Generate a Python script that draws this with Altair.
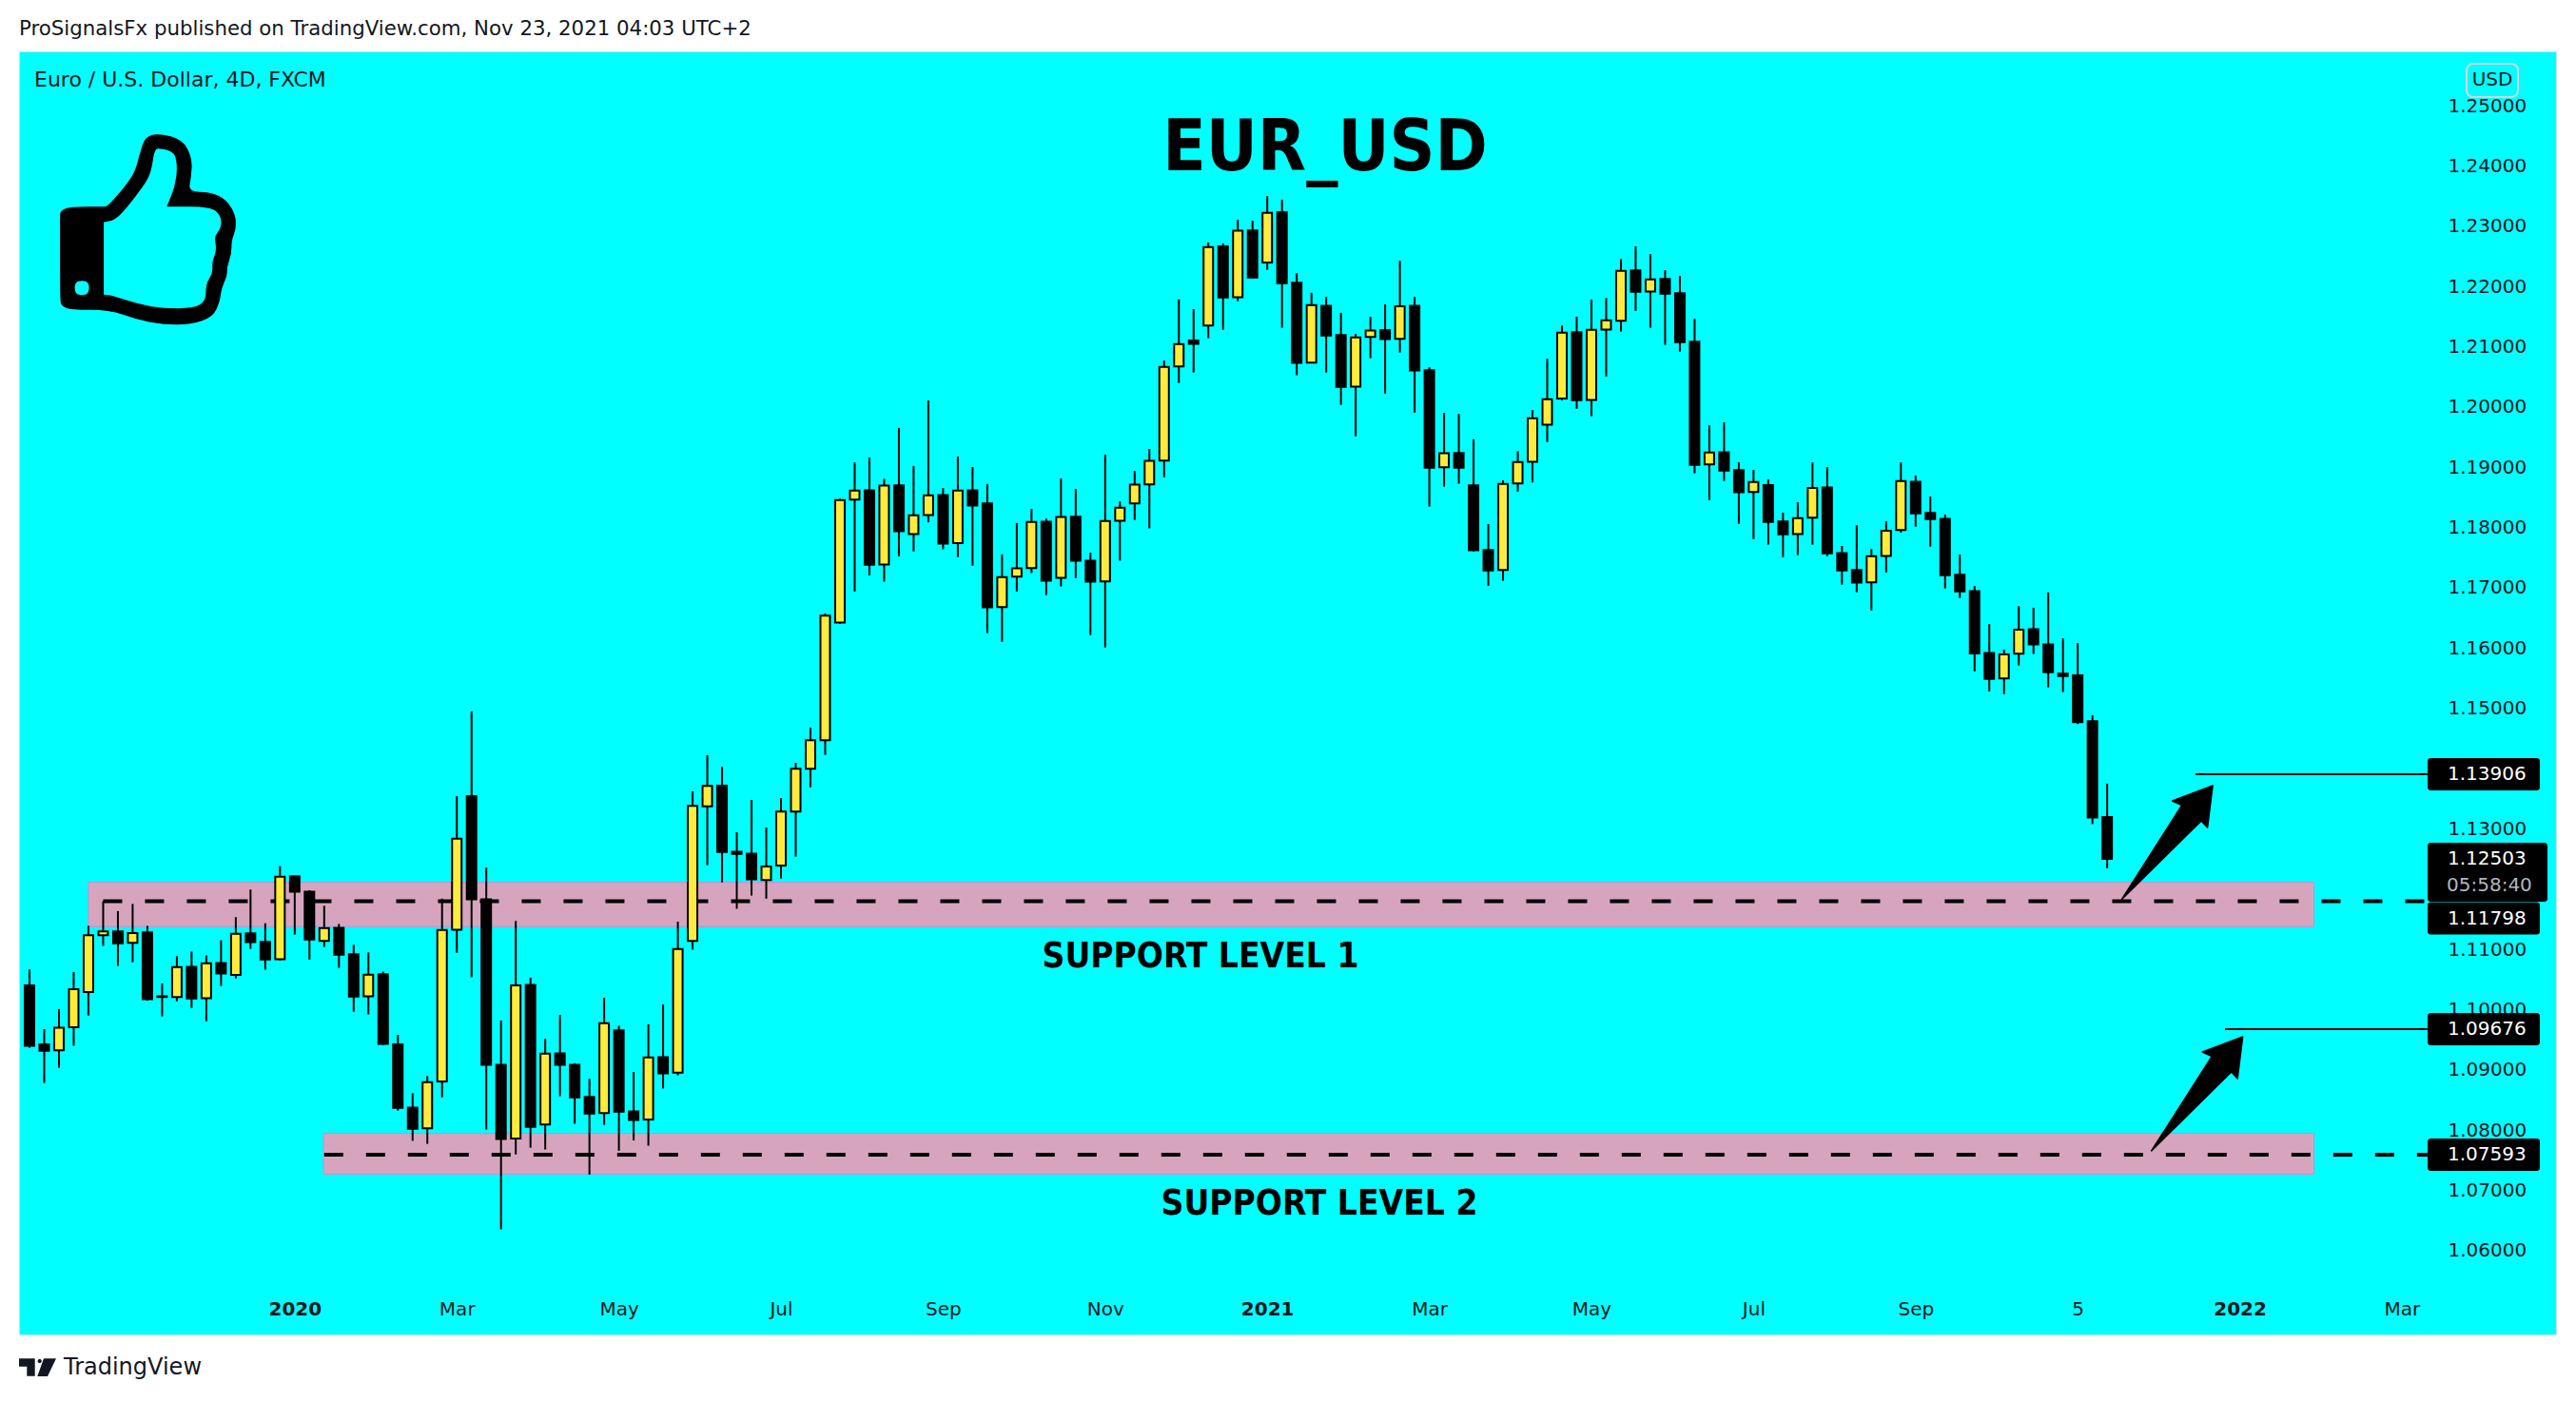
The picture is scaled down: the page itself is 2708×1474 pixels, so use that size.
import altair as alt
import pandas as pd

# ---- candle values (EUR/USD, 4D) ----
highs = [1.10668,1.09676,1.10009,1.10624,1.11390,1.11798,1.11635,1.11754,1.11390,1.10436,1.10888,1.10963,1.10900,1.11152,1.11535,1.11993,1.11434,1.12382,1.12213,1.11981,
1.11723,1.11422,1.11076,1.10951,1.10630,1.09582,1.08614,1.08897,1.11842,1.13542,1.14947,1.12357,1.09820,1.11472,1.10530,1.09519,1.09914,1.09111,1.08853,1.10197,
1.09732,1.08966,1.09757,1.10084,1.11459,1.13622,1.14222,1.14032,1.12943,1.13480,1.13022,1.13511,1.14096,1.14679,1.16573,1.18479,1.19082,1.19160,1.18811,1.19653,
1.19022,1.20107,1.18656,1.19177,1.19005,1.18723,1.17555,1.18075,1.18307,1.18147,1.18817,1.18640,1.17582,1.19210,1.18435,1.18939,1.19304,1.20771,1.21784,1.21624,
1.22731,1.22714,1.23107,1.23091,1.23500,1.23439,1.22221,1.21895,1.21828,1.21563,1.21214,1.21496,1.21701,1.22426,1.21828,1.20660,1.19902,1.19885,1.19465,1.18058,
1.18784,1.19267,1.19949,1.20800,1.21352,1.21499,1.21781,1.21809,1.22452,1.22666,1.22536,1.22271,1.22175,1.21465,1.19695,1.19746,1.19081,1.18957,1.18799,1.18246,
1.18421,1.19081,1.19002,1.17694,1.18038,1.17643,1.18105,1.19081,1.18861,1.18511,1.18213,1.17553,1.17029,1.16397,1.15975,1.16696,1.16668,1.16922,1.16161,1.16082,
1.14887,1.13750]
lows = [1.09368,1.08784,1.09035,1.09399,1.09902,1.11057,1.10725,1.10787,1.10153,1.09889,1.10140,1.10027,1.09808,1.10392,1.10517,1.11007,1.10662,1.10819,1.11246,1.10831,
1.11039,1.10693,1.09965,1.09921,1.09412,1.08326,1.07823,1.07773,1.08545,1.10944,1.10536,1.08012,1.06354,1.07597,1.07710,1.07679,1.08564,1.08106,1.07264,1.08087,
1.07660,1.07829,1.07742,1.08690,1.08910,1.10995,1.12395,1.12112,1.11673,1.11893,1.11842,1.12175,1.12539,1.13690,1.14227,1.16403,1.16940,1.17206,1.17101,1.17521,
1.17604,1.18086,1.17638,1.17510,1.17366,1.16248,1.16104,1.16940,1.17245,1.16879,1.17023,1.17161,1.16215,1.16010,1.17449,1.18125,1.17986,1.18833,1.20400,1.20572,
1.21142,1.21280,1.21756,1.22133,1.22277,1.21313,1.20527,1.20732,1.20572,1.20035,1.19514,1.20810,1.20223,1.20904,1.19907,1.18346,1.18678,1.18728,1.17604,1.17034,
1.17117,1.18596,1.18748,1.19419,1.20112,1.19971,1.19847,1.20507,1.21251,1.21595,1.21313,1.21031,1.20918,1.18900,1.18455,1.18771,1.18060,1.17807,1.17716,1.17508,
1.17542,1.17716,1.17525,1.17051,1.16927,1.16623,1.17254,1.17919,1.18016,1.17683,1.16989,1.16832,1.15614,1.15281,1.15236,1.15710,1.15901,1.15349,1.15270,1.14739,
1.13080,1.12347]
opens = [1.10404,1.09425,1.09324,1.09707,1.10291,1.11233,1.11296,1.11108,1.11283,1.10222,1.10210,1.10712,1.10191,1.10775,1.10574,1.11265,1.11126,1.10838,1.12213,1.11955,
1.11139,1.11359,1.10919,1.10222,1.10586,1.09425,1.08376,1.08030,1.08809,1.11327,1.13542,1.11830,1.09085,1.07861,1.10411,1.08093,1.09274,1.09085,1.08552,1.08282,
1.09657,1.08313,1.08175,1.09211,1.08954,1.11139,1.13375,1.13717,1.12621,1.12590,1.12150,1.12389,1.13285,1.13995,1.14469,1.16425,1.18462,1.18617,1.17388,1.18700,
1.17892,1.18208,1.18540,1.17743,1.18617,1.18402,1.16680,1.17184,1.17328,1.18097,1.17167,1.18180,1.17449,1.17106,1.18114,1.18402,1.18717,1.19110,1.20671,1.21103,
1.21352,1.22664,1.21823,1.22930,1.22399,1.23234,1.22061,1.20738,1.21679,1.21192,1.20339,1.21164,1.21275,1.21131,1.21679,1.20610,1.19000,1.19237,1.18700,1.17627,
1.17294,1.18731,1.19092,1.19706,1.20140,1.21240,1.20118,1.21285,1.21431,1.22266,1.21916,1.22125,1.21888,1.21082,1.19047,1.19250,1.18951,1.18590,1.18703,1.18100,
1.17891,1.18162,1.18664,1.17576,1.17294,1.17091,1.17530,1.17959,1.18760,1.18241,1.18145,1.17215,1.16944,1.15918,1.15496,1.15907,1.16313,1.16059,1.15574,1.15546,
1.14786,1.13197]
closes = [1.09399,1.09318,1.09701,1.10341,1.11233,1.11296,1.11101,1.11271,1.10172,1.10210,1.10706,1.10184,1.10769,1.10599,1.11258,1.11120,1.10831,1.12207,1.11955,1.11164,
1.11352,1.10913,1.10216,1.10580,1.09431,1.08370,1.08024,1.08797,1.11321,1.12835,1.11830,1.09085,1.07855,1.10404,1.08056,1.09268,1.09085,1.08545,1.08275,1.09776,
1.08307,1.08169,1.09205,1.08941,1.11007,1.13380,1.13711,1.12615,1.12583,1.12163,1.12376,1.13285,1.13996,1.14469,1.16537,1.18457,1.18612,1.17383,1.18695,1.17937,
1.18202,1.18534,1.17732,1.18612,1.18363,1.16674,1.17178,1.17322,1.18092,1.17117,1.18175,1.17449,1.17101,1.18108,1.18330,1.18712,1.19105,1.20666,1.21042,1.21048,
1.22653,1.21817,1.22924,1.22149,1.23223,1.22055,1.20732,1.21690,1.21186,1.20334,1.21153,1.21269,1.21125,1.21673,1.20605,1.18994,1.19232,1.18994,1.17621,1.17289,
1.18723,1.19086,1.19814,1.20129,1.21234,1.20112,1.21279,1.21437,1.22260,1.21911,1.22119,1.21882,1.21076,1.19041,1.19244,1.18946,1.18585,1.18754,1.18094,1.17886,
1.18156,1.18658,1.17570,1.17288,1.17085,1.17525,1.17948,1.18771,1.18235,1.18139,1.17209,1.16939,1.15912,1.15490,1.15896,1.16307,1.16059,1.15597,1.15535,1.14770,
1.13189,1.12503]

x_tick_bars = [18,29,40,51,62,73,84,95,106,117,128,139,150,161]
x_tick_names = ["2020","Mar","May","Jul","Sep","Nov","2021","Mar","May","Jul","Sep","5","2022","Mar"]
y_ticks = [1.25,1.24,1.23,1.22,1.21,1.20,1.19,1.18,1.17,1.16,1.15,1.13,1.11,1.10,1.09,1.08,1.07,1.06]

support_names = ["SUPPORT LEVEL 1", "SUPPORT LEVEL 2"]
support_levels = [1.11798, 1.07593]
zone_tops = [1.12112, 1.07949]
zone_bottoms = [1.11378, 1.07271]
zone_start_bars = [4.0, 19.95]
zone_end_bars = [155.03, 155.03]
dash_start_bars = [5.0, 20.0]
target_levels = [1.13906, 1.09676]
target_start_bars = [147.0, 149.0]
arrow_tip_bars = [148.16, 150.2]
arrow_tip_prices = [1.13716, 1.09550]
price_tags = [1.13906, 1.09676, 1.07593, 1.11798]
price_tag_centres = [1.13906, 1.09676, 1.07593, 1.11514]
last_price = 1.12503
last_box = [1.12769, 1.11791]
timer_text = "05:58:40"

CYAN = "#00FFFF"
INK = "#131722"
FONT = "DejaVu Sans"
COND = "DejaVu Sans Condensed"

candles = pd.DataFrame({"bar": range(len(opens)), "o": opens, "h": highs, "l": lows, "c": closes})
candles["fill"] = ["#FFEB3B" if c > o else "#000000" for o, c in zip(opens, closes)]

xs = alt.Scale(domain=[-0.710, 171.46], nice=False, zero=False, padding=0)
ys = alt.Scale(domain=[1.04610, 1.25901], nice=False, zero=False, padding=0)

label_expr = "[" + ",".join(f"'{n}'" for n in x_tick_names) + "][indexof([" + ",".join(map(str, x_tick_bars)) + "], datum.value)]"
bold_test = "datum.value==18||datum.value==84||datum.value==150"

x_axis = alt.Axis(values=x_tick_bars, labelExpr=label_expr, title=None, grid=False, ticks=False, domain=False,
                  orient="bottom", offset=-27, labelPadding=0, labelBaseline="middle", labelFont=FONT, labelFontSize=20,
                  labelColor=INK, labelOverlap=False, labelFlush=False, labelBound=False,
                  labelFontWeight={"condition": {"test": bold_test, "value": "bold"}, "value": "normal"})
y_axis = alt.Axis(values=y_ticks, format=".5f", title=None, grid=False, ticks=False, domain=False, orient="right",
                  offset=-114, labelPadding=0, labelAlign="left", labelBaseline="middle", labelFont=FONT, labelFontSize=20,
                  labelColor=INK, labelOverlap=False, labelFlush=False, labelBound=False)

def X(f):
    return alt.X(f, type="quantitative", scale=xs, axis=x_axis)
def Y(f):
    return alt.Y(f, type="quantitative", scale=ys, axis=y_axis)

one = pd.DataFrame({"a": [0]})

def txt(s, px, py, size, color=INK, weight="normal", font=FONT, align="left"):
    return alt.Chart(one).mark_text(text=s, font=font, fontSize=size, fontWeight=weight, color=color,
                                    align=align, baseline="middle").encode(x=alt.value(px - 20), y=alt.value(py - 54))

def poly(points, sx, sy, ox, oy, reverse=False):
    pts = [(ox + a / sx - 20, oy + b / sy - 54) for a, b in points]
    if reverse:
        pts = pts[::-1]
    return "M" + "L".join(f"{a:.1f},{b:.1f}" for a, b in pts) + "Z"

def smooth(points, sx, sy, ox, oy, reverse=False):
    pts = [(ox + a / sx - 20, oy + b / sy - 54) for a, b in points]
    if reverse:
        pts = pts[::-1]
    n = len(pts)
    mid = lambda p, q: ((p[0] + q[0]) / 2, (p[1] + q[1]) / 2)
    s = "M%.1f,%.1f" % mid(pts[-1], pts[0])
    for k in range(n):
        p, q = pts[k], pts[(k + 1) % n]
        m = mid(p, q)
        s += "Q%.1f,%.1f %.1f,%.1f" % (p[0], p[1], m[0], m[1])
    return s + "Z"

thumb_outer = [(110,690),(110,665),(128,652),(190,652),(198,650),(245,555),(255,490),(265,432),(290,420),(335,440),(352,500),(350,560),(345,605),(385,605),(415,630),(432,680),(432,725),(424,757),(424,800),(416,840),(416,870),(405,912),(403,950),(390,1000),(350,1024),(300,1024),(250,1008),(200,977),(130,977),(112,965),(110,940)]
thumb_inner = [(190,705),(190,700),(195,700),(212,692),(235,650),(270,570),(278,530),(283,470),(295,468),(320,480),(325,530),(320,590),(307,645),(305,652),(312,652),(385,652),(405,680),(405,720),(392,745),(397,790),(388,825),(390,860),(377,895),(377,950),(355,972),(300,973),(255,960),(205,932),(195,930),(190,930),(190,925)]
hole = [(137,898),(142,886),(158,886),(163,898),(163,918),(158,930),(142,930),(137,918)]
thumb_path = smooth(thumb_outer, 1.742, 3, 0, 0) + smooth(thumb_inner, 1.742, 3, 0, 0, True) + smooth(hole, 1.742, 3, 0, 0, True)

logo_t = [(30,40),(80,40),(80,95),(55,95),(55,65),(30,65)]
logo_slash = [(108,40),(147,40),(120,96),(88,96)]
logo_dot = [(86,48),(95,39),(104,48),(95,57)]
logo_path = poly(logo_t, 3, 3, 10, 1415) + poly(logo_slash, 3, 3, 10, 1415) + smooth(logo_dot, 3, 3, 10, 1415)

arrow_path = "M0,0L-42.5,16L-32.5,20.6L-96,120L-12,37L-5.5,44Z"

zones = pd.DataFrame({"x1": zone_start_bars, "x2": zone_end_bars, "y1": zone_tops, "y2": zone_bottoms})
zone_layer = alt.Chart(zones).mark_rect(fill="#D6A5BD", stroke="#C98CD0", strokeWidth=1).encode(
    x=X("x1"), x2="x2", y=Y("y1"), y2="y2")

dashes = pd.DataFrame({"x1": dash_start_bars, "y": support_levels, "x2": [162.75, 162.75]})
dash_layer = alt.Chart(dashes).mark_rule(color="#000000", strokeWidth=4, strokeDash=[20, 24]).encode(
    x=X("x1"), x2="x2", y=Y("y"))

wick_layer = alt.Chart(candles).mark_rule(color="#000000", strokeWidth=2).encode(x=X("bar"), y=Y("l"), y2="h")
body_layer = alt.Chart(candles).mark_bar(size=10, stroke="#000000", strokeWidth=2).encode(
    x=X("bar"), y=Y("o"), y2="c", fill=alt.Fill("fill:N", scale=None, legend=None))

targets = pd.DataFrame({"x1": target_start_bars, "y": target_levels, "x2": [162.75, 162.75]})
target_layer = alt.Chart(targets).mark_rule(color="#000000", strokeWidth=2).encode(x=X("x1"), x2="x2", y=Y("y"))

arrows = pd.DataFrame({"x": arrow_tip_bars, "y": arrow_tip_prices})
arrow_layer = alt.Chart(arrows).mark_point(shape=arrow_path, size=4, filled=True, fill="#000000", opacity=1,
                                           stroke="#000000", strokeWidth=1.5, strokeJoin="round").encode(x=X("x"), y=Y("y"))

last_df = pd.DataFrame({"y1": [last_box[0]], "y2": [last_box[1]]})
last_box_layer = alt.Chart(last_df).mark_rect(fill="#000000", cornerRadius=3).encode(
    x=alt.value(2532), x2=alt.value(2658), y=Y("y1"), y2="y2")

half_tag = 17 / 6336
tags = pd.DataFrame({"t": [f"{p:.5f}" for p in price_tags], "yc": price_tag_centres})
tags["y1"] = tags["yc"] + half_tag
tags["y2"] = tags["yc"] - half_tag
tag_box = alt.Chart(tags).mark_rect(fill="#000000", cornerRadius=3).encode(
    x=alt.value(2532), x2=alt.value(2650), y=Y("y1"), y2="y2")
tag_text = alt.Chart(tags).mark_text(font=FONT, fontSize=20, color="#FFFFFF", align="left", baseline="middle").encode(
    x=alt.value(2553), y=Y("yc"), text="t:N")
last_df2 = pd.DataFrame({"t": [f"{last_price:.5f}"], "y": [last_price], "timer": [timer_text]})
last_text = alt.Chart(last_df2).mark_text(font=FONT, fontSize=20, color="#FFFFFF", align="left", baseline="middle").encode(
    x=alt.value(2553), y=Y("y"), text="t:N")
timer = alt.Chart(last_df2).mark_text(font=FONT, fontSize=20, color="#B2B5BE", align="left", baseline="middle", dy=28).encode(
    x=alt.value(2552), y=Y("y"), text="timer:N")

thumb = alt.Chart(one).mark_point(shape=thumb_path, size=4, filled=True, fill="#000000", opacity=1, strokeWidth=0).encode(
    x=alt.value(0), y=alt.value(0))
logo = alt.Chart(one).mark_point(shape=logo_path, size=4, filled=True, fill=INK, opacity=1, strokeWidth=0).encode(
    x=alt.value(0), y=alt.value(0))
usd_box = alt.Chart(one).mark_rect(fill="#00FFFF", fillOpacity=0, stroke="#D1D4DC", strokeWidth=2, cornerRadius=7).encode(
    x=alt.value(2573), x2=alt.value(2627), y=alt.value(13), y2=alt.value(48))

chart = alt.layer(
    zone_layer, dash_layer, wick_layer, body_layer, target_layer, arrow_layer,
    last_box_layer, tag_box, tag_text, last_text, timer, thumb, logo, usd_box,
    txt("USD", 2620, 84, 20, align="center"),
    txt("ProSignalsFx published on TradingView.com, Nov 23, 2021 04:03 UTC+2", 20, 30.5, 21.3),
    txt("Euro / U.S. Dollar, 4D, FXCM", 36, 84, 22),
    txt("EUR_USD", 1393, 157, 74, color="#000000", weight="bold", font=COND, align="center"),
    txt(support_names[0], 1262, 1006, 36.8, color="#000000", weight="bold", font=COND, align="center"),
    txt(support_names[1], 1387, 1266, 36.8, color="#000000", weight="bold", font=COND, align="center"),
    txt("TradingView", 67, 1438, 24),
).properties(
    width=2667, height=1349, background="#FFFFFF",
    autosize=alt.AutoSizeParams(type="none"),
    padding={"left": 12, "top": 46, "right": 8, "bottom": 60},
).configure_view(fill=CYAN, stroke="#C8E6EC", strokeWidth=1)

chart.save("out.html", embed_options={"renderer": "svg", "actions": False})
